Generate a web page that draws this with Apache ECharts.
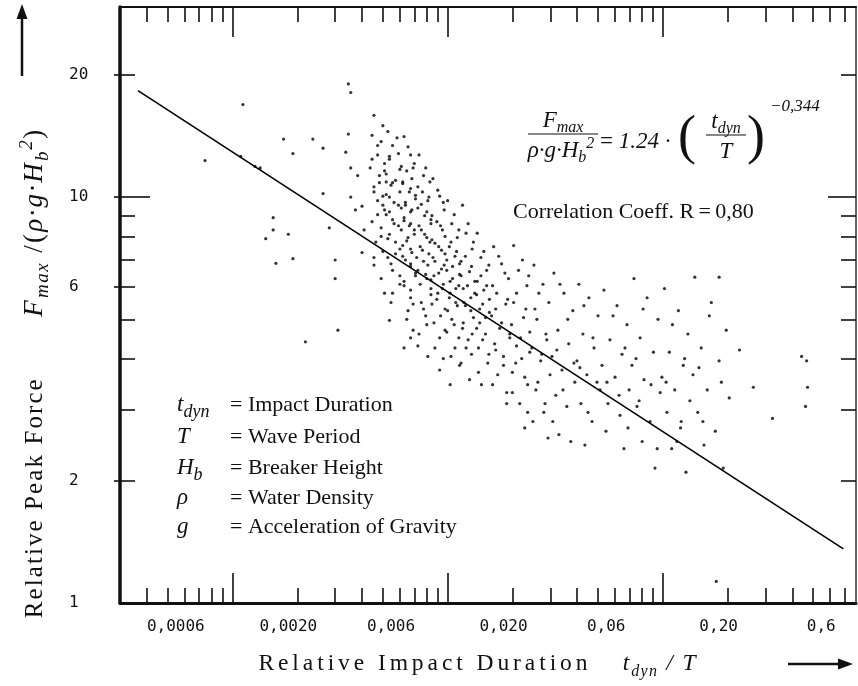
<!DOCTYPE html>
<html><head><meta charset="utf-8">
<script src="https://cdn.jsdelivr.net/npm/echarts@6/dist/echarts.min.js"></script>
<style>html,body{margin:0;padding:0;background:#fff}#c{width:858px;height:686px}</style>
</head><body><div id="c"></div>
<script>
// ---------- data ----------
const xLabelValues = [0.0006, 0.002, 0.006, 0.02, 0.06, 0.2, 0.6];
const xLabelTexts  = ['0,0006', '0,0020', '0,006', '0,020', '0,06', '0,20', '0,6'];
const yLabelValues = [1, 2, 6, 10, 20];
const xTickBases = [0.00011, 0.0011, 0.011, 0.11];
const tickMultipliers = [1, 2, 3, 4, 5, 6, 7, 8, 9];
const yShortTicks = [2, 3, 4, 5, 6, 7, 8, 9, 20];
const yLongTicks = [10];
const yOuterTicks = [2, 6, 10, 20];
const regressionLine = [[0.0004, 18.3], [0.76, 1.36]];

const sparseLeft = [[0.00082,12.3],[0.0012,12.6],[0.0014,11.9],[0.00148,11.8],[0.00123,16.9],[0.0017,8.9],[0.0017,8.3],[0.00157,7.9],[0.002,8.1],[0.00175,6.87],[0.0021,7.05],[0.0024,4.4],[0.0019,13.9],[0.0021,12.8],[0.0026,13.9],[0.0029,13.2],[0.0031,8.4],[0.0029,10.2],[0.0038,19.0],[0.0039,18.1],[0.0038,14.3],[0.0039,11.8],[0.0039,10.0],[0.005,15.9],[0.0037,12.9],[0.0033,7.0],[0.0033,6.3],[0.0034,4.7],[0.0042,11.3],[0.0044,9.5],[0.0045,8.3],[0.0041,9.3],[0.0044,7.3],[0.0055,15.0]];

const coreCloud = [[0.0049,14.2],[0.0054,13.7],[0.0052,12.7],[0.0056,12.1],[0.0048,11.8],[0.0053,11.3],[0.0057,10.9],[0.0050,10.6],[0.0055,10.05],[0.0052,9.8],[0.0056,9.3],[0.0049,8.7],[0.0054,8.4],[0.0051,7.75],[0.0055,7.35],[0.0050,6.8],[0.0054,6.3],
[0.0058,14.5],[0.0061,13.4],[0.0065,12.8],[0.0059,12.4],[0.0067,11.9],[0.0057,11.4],[0.0063,11.0],[0.0060,10.7],[0.0066,10.3],[0.0059,10.0],[0.0062,9.7],[0.0067,9.4],[0.0057,9.05],[0.0061,8.8],[0.0065,8.5],[0.0059,8.1],[0.0063,7.75],[0.0066,7.45],[0.0058,7.1],[0.0061,6.6],[0.0066,6.1],[0.0060,5.5],
[0.0069,14.1],[0.0074,12.7],[0.0077,12.1],[0.0071,11.6],[0.0075,11.1],[0.0068,10.8],[0.0073,10.3],[0.0078,9.9],[0.0070,9.55],[0.0074,9.2],[0.0069,8.9],[0.0074,8.6],[0.0077,8.3],[0.0072,7.95],[0.0068,7.6],[0.0075,7.3],[0.0070,7.0],[0.0074,6.75],[0.0078,6.4],[0.0069,6.05],[0.0074,5.65],[0.0072,5.25],[0.0076,4.7],[0.0069,4.25],
[0.0081,12.7],[0.0087,11.8],[0.0091,10.9],[0.0084,10.3],[0.0089,9.8],[0.0080,9.4],[0.0086,9.0],[0.0092,8.6],[0.0083,8.3],[0.0088,7.95],[0.0082,7.55],[0.0090,7.25],[0.0085,6.95],[0.0080,6.6],[0.0088,6.3],[0.0092,5.95],[0.0083,5.5],[0.0087,5.1],[0.0081,4.6],[0.0089,4.05],
[0.0094,11.1],[0.0101,10.05],[0.0106,9.3],[0.0098,8.7],[0.0104,8.3],[0.0093,7.85],[0.0100,7.55],[0.0107,7.25],[0.0096,6.95],[0.0103,6.65],[0.0095,6.4],[0.0105,6.1],[0.0099,5.8],[0.0093,5.45],[0.0102,5.1],[0.0107,4.7],[0.0096,4.25],[0.0101,3.75]];

const coreCloudExtra = [[0.0052,13.4],[0.0049,12.4],[0.0056,11.6],[0.0053,10.85],[0.0050,10.3],[0.0055,9.55],[0.0052,9.05],[0.0054,8.0],[0.0050,7.1],[0.0056,5.8],
[0.0064,14.0],[0.0059,12.6],[0.0066,11.7],[0.0061,10.85],[0.0057,10.15],[0.0065,9.55],[0.0059,9.2],[0.0062,8.6],[0.0067,8.3],[0.0058,7.9],[0.0063,7.25],[0.0060,6.85],[0.0066,6.4],[0.0061,5.8],[0.0059,4.97],
[0.0072,13.3],[0.0076,11.8],[0.0068,10.9],[0.0074,10.5],[0.0078,10.1],[0.0070,9.7],[0.0075,9.3],[0.0069,8.75],[0.0073,8.5],[0.0077,8.1],[0.0071,7.8],[0.0074,7.45],[0.0068,7.15],[0.0074,6.85],[0.0078,6.5],[0.0069,6.2],[0.0074,5.9],[0.0076,5.45],[0.0071,5.0],[0.0074,4.5],
[0.0085,11.3],[0.0080,10.6],[0.0090,10.0],[0.0083,9.6],[0.0088,9.2],[0.0092,8.8],[0.0081,8.5],[0.0086,8.1],[0.0091,7.75],[0.0084,7.4],[0.0079,7.1],[0.0089,6.8],[0.0087,6.45],[0.0082,6.1],[0.0092,5.75],[0.0085,5.3],[0.0088,4.85],[0.0080,4.3],
[0.0099,10.4],[0.0105,9.7],[0.0093,9.0],[0.0102,8.5],[0.0107,8.0],[0.0096,7.7],[0.0103,7.4],[0.0094,7.1],[0.0106,6.8],[0.0100,6.5],[0.0092,6.25],[0.0104,5.95],[0.0098,5.6],[0.0107,5.3],[0.0095,4.9],[0.0101,4.5],[0.0105,4.0]];

const midCloud = [[0.0110,9.8],[0.0118,9.05],[0.0124,8.3],[0.0114,7.75],[0.0121,7.35],[0.0109,7.0],[0.0116,6.75],[0.0125,6.45],[0.0113,6.2],[0.0120,5.95],[0.0112,5.65],[0.0122,5.4],[0.0115,5.0],[0.0109,4.65],[0.0119,4.25],[0.0125,3.85],[0.0113,3.45],
[0.0129,9.55],[0.0137,8.6],[0.0145,7.75],[0.0133,7.15],[0.0142,6.75],[0.0127,6.4],[0.0136,6.05],[0.0147,5.8],[0.0131,5.5],[0.0141,5.25],[0.0130,4.9],[0.0143,4.6],[0.0134,4.25],[0.0127,3.9],[0.0139,3.55],
[0.0151,8.15],[0.0162,7.35],[0.0171,6.8],[0.0157,6.4],[0.0167,6.05],[0.0150,5.75],[0.0160,5.45],[0.0172,5.2],[0.0155,4.9],[0.0165,4.6],[0.0153,4.25],[0.0169,3.9],[0.0158,3.45],
[0.0180,7.55],[0.0196,6.85],[0.0211,6.3],[0.0186,5.8],[0.0205,5.45],[0.0176,5.1],[0.0192,4.75],[0.0214,4.5],[0.0184,4.2],[0.0200,3.85],[0.0178,3.45],[0.0207,3.1],
[0.0223,7.6],[0.0245,7.0],[0.0262,6.4],[0.0230,5.8],[0.0254,5.3],[0.0218,4.85],[0.0240,4.5],[0.0265,4.15],[0.0228,3.9],[0.0251,3.6],[0.0220,3.3],[0.0259,2.95]];

const midCloudExtra = [[0.0115,8.6],[0.0122,7.95],[0.0112,7.55],[0.0119,7.15],[0.0125,6.85],[0.0109,6.6],[0.0116,6.3],[0.0124,6.05],[0.0113,5.8],[0.0120,5.5],[0.0110,5.25],[0.0118,4.85],[0.0124,4.5],[0.0114,4.05],
[0.0134,8.15],[0.0143,7.45],[0.0127,6.95],[0.0139,6.55],[0.0147,6.2],[0.0130,5.95],[0.0141,5.65],[0.0133,5.4],[0.0145,5.05],[0.0129,4.75],[0.0137,4.45],[0.0142,4.1],
[0.0157,7.1],[0.0167,6.6],[0.0151,6.2],[0.0162,5.9],[0.0172,5.6],[0.0155,5.3],[0.0165,5.05],[0.0150,4.75],[0.0160,4.45],[0.0171,4.1],[0.0153,3.7],
[0.0190,7.15],[0.0203,6.5],[0.0178,6.05],[0.0209,5.6],[0.0184,5.3],[0.0196,4.9],[0.0214,4.6],[0.0182,4.35],[0.0200,4.05],[0.0188,3.65],[0.0207,3.3],
[0.0235,6.6],[0.0257,6.05],[0.0223,5.5],[0.0248,5.05],[0.0265,4.65],[0.0230,4.3],[0.0243,4.0],[0.0220,3.7],[0.0259,3.45],[0.0238,3.1],[0.0251,2.7]];

const rightCloud = [[0.0277,6.8],[0.0305,6.1],[0.0325,5.5],[0.0286,5.0],[0.0315,4.6],[0.0271,4.25],[0.0298,3.95],[0.0329,3.65],[0.0283,3.35],[0.0312,3.1],[0.0274,2.8],[0.0322,2.55],
[0.0343,6.5],[0.0382,5.8],[0.0420,5.25],[0.0358,4.7],[0.0402,4.35],[0.0336,4.05],[0.0374,3.75],[0.0429,3.5],[0.0350,3.25],[0.0394,3.05],[0.0339,2.8],[0.0411,2.5],
[0.0448,6.1],[0.0499,5.65],[0.0550,5.1],[0.0468,4.6],[0.0527,4.25],[0.0439,3.95],[0.0488,3.65],[0.0562,3.35],[0.0458,3.1],[0.0516,2.8],[0.0478,2.45],
[0.0586,5.9],[0.0674,5.4],[0.0750,4.85],[0.0625,4.45],[0.0711,4.1],[0.0574,3.85],[0.0660,3.6],[0.0767,3.35],[0.0612,3.1],[0.0696,2.9],[0.0599,2.65],[0.0726,2.4],
[0.0808,6.3],[0.0930,5.65],[0.1045,5.0],[0.0863,4.5],[0.0995,4.15],[0.0791,3.85],[0.0900,3.55],[0.107,3.3],[0.0835,3.05],[0.0960,2.8],[0.0882,2.5],[0.1012,2.15],
[0.112,5.95],[0.130,5.25],[0.144,4.6],[0.118,4.15],[0.137,3.85],[0.109,3.6],[0.125,3.35],[0.147,3.15],[0.115,2.95],[0.133,2.7],[0.121,2.4],[0.141,2.1],
[0.155,6.35],[0.185,5.5],[0.217,4.7],[0.166,4.25],[0.201,3.95],[0.152,3.65],[0.177,3.35],[0.224,3.2],[0.160,2.95],[0.193,2.65],[0.171,2.45],[0.210,2.15]];

const rightCloudExtra = [[0.0292,5.8],[0.0280,5.3],[0.0318,4.45],[0.0301,4.1],[0.0289,3.5],[0.0308,2.95],
[0.0366,6.1],[0.0398,5.0],[0.0354,4.2],[0.0425,3.9],[0.0378,3.35],[0.0362,2.6],
[0.0473,5.4],[0.0521,4.5],[0.0453,3.8],[0.0544,3.5],[0.0494,2.95],
[0.0646,5.1],[0.0734,4.25],[0.0605,3.5],[0.0689,3.25],[0.0758,2.7],
[0.0891,5.3],[0.0826,4.0],[0.0970,3.45],[0.0854,3.15],[0.1036,2.4],
[0.122,4.85],[0.139,4.0],[0.114,3.5],[0.134,2.8],[0.128,2.5],
[0.181,5.1],[0.162,3.8],[0.206,3.5],[0.169,2.8]];

const sparseRight = [[0.250,4.2],[0.290,3.4],[0.356,2.85],[0.486,4.05],[0.513,3.95],[0.518,3.4],[0.507,3.05],[0.201,6.35],[0.195,1.13]];

// ---------- setup ----------
const X_MIN = 0.00033, X_MAX = 0.87, Y_MIN = 1, Y_MAX = 29.4;
const SERIF = '"Liberation Serif", "Times New Roman", serif';
const MONO = '"DejaVu Sans Mono", monospace';
const INK = '#111';
const HAIR = '\u200A';

const xAll = [];
xTickBases.forEach(b => tickMultipliers.forEach(k => { const v = +(b * k).toPrecision(4); if (v > X_MIN * 1.001 && v < X_MAX * 0.999) xAll.push({v, k}); }));
const xLong = xAll.filter(t => t.k === 1).map(t => t.v);
const xShort = xAll.filter(t => t.k !== 1).map(t => t.v);

function xLabel(val) {
  let best = 0, bd = Infinity;
  xLabelValues.forEach((v, i) => { const d = Math.abs(Math.log(v) - Math.log(val)); if (d < bd) { bd = d; best = i; } });
  return xLabelTexts[best];
}

function rich(size, subScale) {
  const s = Math.round(size * (subScale || 0.7));
  return {
    n:   {fontFamily: SERIF, fontSize: size, fill: INK, color: INK, verticalAlign: 'middle'},
    i:   {fontFamily: SERIF, fontSize: size, fontStyle: 'italic', fill: INK, color: INK, verticalAlign: 'middle'},
    sub: {fontFamily: SERIF, fontSize: s, fontStyle: 'italic', fill: INK, color: INK, verticalAlign: 'middle', padding: [Math.round(size * 0.62), 0, 0, 0]},
    sup: {fontFamily: SERIF, fontSize: s, fontStyle: 'italic', fill: INK, color: INK, verticalAlign: 'middle', padding: [0, 0, Math.round(size * 0.62), 0]},
    big: {fontFamily: SERIF, fontSize: size + 2, fill: INK, color: INK, verticalAlign: 'middle'},
    bi:  {fontFamily: SERIF, fontSize: size + 2, fontStyle: 'italic', fill: INK, color: INK, verticalAlign: 'middle'},
    bsub:{fontFamily: SERIF, fontSize: Math.round((size + 2) * 0.7), fontStyle: 'italic', fill: INK, color: INK, verticalAlign: 'middle', padding: [Math.round(size * 0.64), 0, 0, 0]},
    bsup:{fontFamily: SERIF, fontSize: Math.round((size + 2) * 0.7), fontStyle: 'italic', fill: INK, color: INK, verticalAlign: 'middle', padding: [0, 0, Math.round(size * 0.64), 0]}
  };
}
const track = (s, n) => s.split('').join(HAIR.repeat(n || 1));
const T1 = s => track(s, 1) + HAIR;

function baseX(pos) {
  return {type: 'log', logBase: 10, min: X_MIN, max: X_MAX, position: pos, gridIndex: 0,
    splitLine: {show: false}, axisLabel: {show: false}, axisTick: {show: false},
    axisLine: {show: false}};
}
function baseY(pos) {
  return {type: 'log', logBase: 10, min: Y_MIN, max: Y_MAX, position: pos, gridIndex: 0,
    splitLine: {show: false}, axisLabel: {show: false}, axisTick: {show: false},
    axisLine: {show: false}};
}
const tickStyle = {color: INK, width: 1.6};

const xAxes = [
  Object.assign(baseX('bottom'), {
    axisLine: {show: true, onZero: false, lineStyle: {color: INK, width: 3}},
    axisTick: {show: true, inside: true, length: 15, customValues: xShort, lineStyle: tickStyle},
    axisLabel: {show: true, customValues: xLabelValues, formatter: xLabel, margin: 16,
      fontFamily: MONO, fontSize: 16, color: INK}
  }),
  Object.assign(baseX('bottom'), {
    axisTick: {show: true, inside: true, length: 30, customValues: xLong, lineStyle: tickStyle}
  }),
  Object.assign(baseX('top'), {
    axisLine: {show: true, onZero: false, lineStyle: {color: INK, width: 2}},
    axisTick: {show: true, inside: true, length: 15, customValues: xShort, lineStyle: tickStyle}
  }),
  Object.assign(baseX('top'), {
    axisTick: {show: true, inside: true, length: 30, customValues: xLong, lineStyle: tickStyle}
  })
];
const yAxes = [
  Object.assign(baseY('left'), {
    axisLine: {show: true, onZero: false, lineStyle: {color: INK, width: 3.5}},
    axisTick: {show: true, inside: true, length: 15, customValues: yShortTicks, lineStyle: tickStyle},
    axisLabel: {show: true, customValues: yLabelValues, margin: 51, align: 'left',
      fontFamily: MONO, fontSize: 16, color: INK}
  }),
  Object.assign(baseY('left'), {
    axisTick: {show: true, inside: true, length: 30, customValues: yLongTicks, lineStyle: tickStyle}
  }),
  Object.assign(baseY('left'), {
    axisTick: {show: true, inside: false, length: 6, customValues: yOuterTicks, lineStyle: tickStyle}
  }),
  Object.assign(baseY('right'), {
    axisLine: {show: true, onZero: false, lineStyle: {color: '#333', width: 1.5}},
    axisTick: {show: true, inside: true, length: 15, customValues: yShortTicks, lineStyle: tickStyle}
  }),
  Object.assign(baseY('right'), {
    axisTick: {show: true, inside: true, length: 28, customValues: yLongTicks, lineStyle: tickStyle}
  })
];

const allPoints = [].concat(sparseLeft, coreCloud, coreCloudExtra, midCloud, midCloudExtra, rightCloud, rightCloudExtra, sparseRight);

const yTitle = '{n|' + track('Relative Peak Force') + '}{n|\u2003\u2003\u2002}' +
  '{bi|' + T1('F') + '}{bsub|' + T1('max') + '}{big|' + T1(' /(') + '}{bi|' + T1('\u03C1\u00B7g\u00B7H') + '}{bsub|' + T1('b') + '}{bsup|' + T1('2') + '}{big|)}';
const xTitle = '{n|' + track('Relative Impact Duration', 2) + '}{n|\u2003\u2002}' +
  '{i|' + T1('t') + '}{sub|' + T1('dyn') + '}{i|' + track(' / T', 1) + '}';

const graphics = [
  {type: 'line', shape: {x1: 22, y1: 76, x2: 22, y2: 18}, style: {stroke: INK, lineWidth: 2.5}},
  {type: 'polygon', shape: {points: [[22, 4], [16.5, 19], [27.5, 19]]}, style: {fill: INK}},
  {type: 'line', shape: {x1: 788, y1: 664, x2: 840, y2: 664}, style: {stroke: INK, lineWidth: 2.5}},
  {type: 'polygon', shape: {points: [[853, 664], [838, 658.5], [838, 669.5]]}, style: {fill: INK}},
  {type: 'text', x: 35, y: 374, rotation: Math.PI / 2,
    style: {text: yTitle, rich: rich(25), align: 'center', verticalAlign: 'middle'}},
  {type: 'text', x: 477, y: 664,
    style: {text: xTitle, rich: rich(23.5), align: 'center', verticalAlign: 'middle'}},
  // formula
  {type: 'text', x: 563, y: 121, style: {text: '{i|F}{sub|max}', rich: rich(23), align: 'center', verticalAlign: 'middle'}},
  {type: 'line', shape: {x1: 528, y1: 134, x2: 598, y2: 134}, style: {stroke: INK, lineWidth: 1.2}},
  {type: 'text', x: 561, y: 151, style: {text: '{i|\u03C1\u00B7g\u00B7H}{sub|b}{sup|2}', rich: rich(23), align: 'center', verticalAlign: 'middle'}},
  {type: 'text', x: 600, y: 142, style: {text: '{n|= }{i|1.24 \u00B7}', rich: rich(23), align: 'left', verticalAlign: 'middle'}},
  {type: 'text', x: 687, y: 139, style: {text: '(', font: '300 54px ' + SERIF, fill: INK, align: 'center', verticalAlign: 'middle'}},
  {type: 'text', x: 726, y: 122, style: {text: '{i|t}{sub|dyn}', rich: rich(23), align: 'center', verticalAlign: 'middle'}},
  {type: 'line', shape: {x1: 706, y1: 135, x2: 746, y2: 135}, style: {stroke: INK, lineWidth: 1.2}},
  {type: 'text', x: 726, y: 152, style: {text: '{i|T}', rich: rich(23), align: 'center', verticalAlign: 'middle'}},
  {type: 'text', x: 756, y: 139, style: {text: ')', font: '300 54px ' + SERIF, fill: INK, align: 'center', verticalAlign: 'middle'}},
  {type: 'text', x: 770, y: 107, style: {text: '\u22120,344', font: 'italic 17px ' + SERIF, fill: INK, align: 'left', verticalAlign: 'middle'}},
  {type: 'text', x: 513, y: 212, style: {text: 'Correlation Coeff. R\u2009=\u20090,80', font: '22px ' + SERIF, fill: INK, align: 'left', verticalAlign: 'middle'}}
];
const legendRows = [
  ['{i|t}{sub|dyn}', 'Impact Duration'],
  ['{i|T}', 'Wave Period'],
  ['{i|H}{sub|b}', 'Breaker Height'],
  ['{i|\u03C1}', 'Water Density'],
  ['{i|g}', 'Acceleration of Gravity']
];
const legendY = [405, 437, 468, 498, 527];
legendRows.forEach((r, i) => {
  graphics.push({type: 'text', x: 177, y: legendY[i], style: {text: r[0], rich: rich(23, 0.78), align: 'left', verticalAlign: 'middle'}});
  graphics.push({type: 'text', x: 230, y: legendY[i], style: {text: '= ' + r[1], font: '22px ' + SERIF, fill: INK, align: 'left', verticalAlign: 'middle'}});
});

const chart = echarts.init(document.getElementById('c'), null, {renderer: 'canvas'});
chart.setOption({
  animation: false,
  backgroundColor: '#fff',
  grid: {left: 120, right: 2, top: 7, bottom: 83, containLabel: false},
  xAxis: xAxes,
  yAxis: yAxes,
  series: [
    {type: 'scatter', xAxisIndex: 0, yAxisIndex: 0, data: allPoints, symbol: 'circle', symbolSize: 3.2,
      itemStyle: {color: '#000'}, silent: true},
    {type: 'line', xAxisIndex: 0, yAxisIndex: 0, data: regressionLine, showSymbol: false, symbol: 'none',
      lineStyle: {color: '#000', width: 1.6}, silent: true}
  ],
  graphic: graphics
});
</script></body></html>
